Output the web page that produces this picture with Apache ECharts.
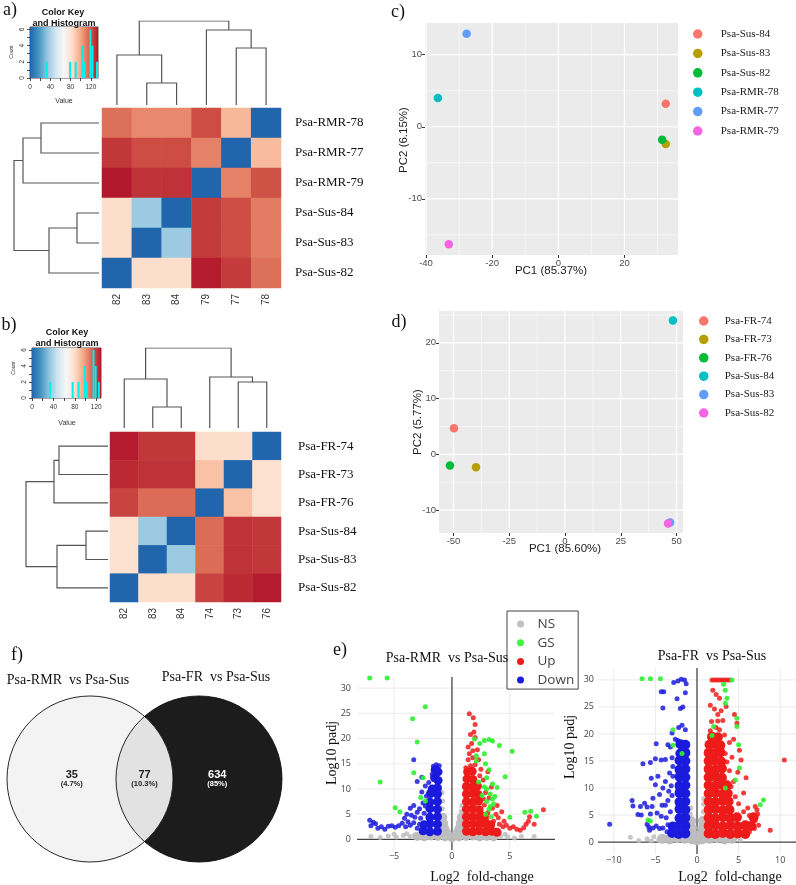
<!DOCTYPE html>
<html><head><meta charset="utf-8">
<script src="https://cdn.jsdelivr.net/npm/echarts@6/dist/echarts.min.js"></script>
<style>html,body{margin:0;padding:0;background:#fff}#c{width:796px;height:885px}</style>
</head><body><div id="c"></div>
<script>
// ---------------- DATA ----------------
// a) heatmap (sample distances)
const heatAcols = ['82','83','84','79','77','78'];
const heatArows = ['Psa-RMR-78','Psa-RMR-77','Psa-RMR-79','Psa-Sus-84','Psa-Sus-83','Psa-Sus-82'];
const heatAvals = [
  [110,104,104,118,92,0],
  [123,118,118,106,0,91],
  [130,124,124,0,106,117],
  [80,35,0,122,118,107],
  [80,0,35,122,118,107],
  [0,80,80,129,122,110]];
// dendrogram merges: [childA, childB, height]; children 0..5 = leaves, 10+k = merge k
const dendTopA = [[1,2,22],[0,10,50],[4,5,57],[3,12,75],[11,13,84]];
const dendLeftA = [[0,1,58],[2,10,76],[3,4,22],[5,12,50],[11,13,85]];
const histA = [[33,2],[79,2],[90,2],[103,4],[107,2],[119,6],[123,4],[132,2]];
// b) heatmap
const heatBcols = ['82','83','84','74','73','76'];
const heatBrows = ['Psa-FR-74','Psa-FR-73','Psa-FR-76','Psa-Sus-84','Psa-Sus-83','Psa-Sus-82'];
const heatBvals = [
  [129,123,123,80,80,0],
  [126,124,124,89,0,78],
  [120,111,111,0,89,78],
  [78,35,0,111,124,123],
  [78,0,35,111,124,123],
  [0,80,80,120,126,129]];
const dendTopB = [[1,2,21],[0,10,49],[4,5,46],[3,12,51],[11,13,80]];
const dendLeftB = [[0,1,49],[2,10,54],[3,4,22],[5,12,51],[11,13,82]];
const histB = [[34,2],[76,2],[87,2],[99,4],[102,2],[115,6],[119,4],[125,2]];
// c) PCA
const pcaCnames = ['Psa-Sus-84','Psa-Sus-83','Psa-Sus-82','Psa-RMR-78','Psa-RMR-77','Psa-RMR-79'];
const pcaCpc1 = [32.5, 32.5, 31.4, -36.4, -27.7, -33.1];
const pcaCpc2 = [3.2, -2.4, -1.8, 4.0, 12.9, -16.3];
const pcaCxTicks = [-40,-20,0,20];
const pcaCyTicks = [-10,0,10];
// d) PCA
const pcaDnames = ['Psa-FR-74','Psa-FR-73','Psa-FR-76','Psa-Sus-84','Psa-Sus-83','Psa-Sus-82'];
const pcaDpc1 = [-49.8, -39.9, -51.6, 48.4, 47.1, 46.2];
const pcaDpc2 = [4.7, -2.3, -2.0, 24.0, -12.2, -12.4];
const pcaDxTicks = [-50,-25,0,25,50];
const pcaDyTicks = [-10,0,10,20];
// f) Venn
const vennNames = ['Psa-RMR  vs Psa-Sus','Psa-FR  vs Psa-Sus'];
const vennCounts = [35, 77, 634];
// e) volcano plots
const volTitles = ['Psa-RMR  vs Psa-Sus','Psa-FR  vs Psa-Sus'];
const volLxTicks = [-5,0,5];
const volRxTicks = [-10,-5,0,5,10];
const volYTicks = [0,5,10,15,20,25,30];
// left volcano (RMR vs Sus)
const nsCoreL = [[-3.0,0.6],[-2.4,0.5],[-1.8,0.7],[-1.2,0.6],[-0.6,0.5],[0,0.3],[0.6,0.5],[1.2,0.6],[1.8,0.7],[2.4,0.5],[3.0,0.6],[3.6,0.5],[-0.4,1.2],[0.4,1.2],[-0.6,2.1],[0.6,2.1],[-0.72,3.2],[0.72,3.2],[-0.78,4.4],[0.8,4.4]];
const nsL = [[-0.85,9.3],[-0.8,7.6],[-0.83,6.1],[0.85,6.7],[0.82,5.6],[-0.7,1.3],[0.7,1.4],[-1.2,0.5],[-1.6,0.9],[-2.0,0.4],[-2.4,0.8],[-2.8,0.4],[-3.2,0.9],[-3.6,0.6],[-4.2,0.8],[-4.8,0.5],[-5.5,0.7],[-6.2,0.4],[-7.0,0.6],[1.2,0.4],[1.6,0.9],[2.0,0.4],[2.4,0.8],[2.8,0.4],[3.2,0.8],[3.6,0.4],[4.2,0.7],[4.8,0.5],[5.4,0.3],[6.0,0.6],[7.1,0.6],[-5.0,1.0],[4.6,1.0],[-3.9,1.1],[3.9,1.0]];
const downCoreL = [[-1.25,1.6],[-1.9,1.5],[-2.5,1.7],[-1.25,3.0],[-1.9,3.1],[-2.4,2.9],[-1.25,4.5],[-1.9,4.4],[-1.25,6.0],[-1.9,6.1],[-1.25,7.5],[-1.9,7.4],[-1.25,9.0],[-1.85,9.1],[-1.25,10.2],[-1.7,10.0],[-1.2,11.7],[-1.5,12.2],[-1.2,13.4],[-1.45,13.8]];
const downL = [[-1.1,14.6],[-1.35,14.8],[-1.6,14.5],[-1.7,12.9],[-2.0,11.3],[-3.3,15.8],[-3.0,11.5],[-2.6,12.3],[-2.3,10.6],[-2.6,9.4],[-2.5,7.2],[-2.8,6.1],[-2.4,5.2],[-2.7,4.2],[-3.0,5.4],[-3.3,6.7],[-3.6,6.2],[-3.9,5.0],[-3.2,4.4],[-2.8,3.0],[-3.0,2.2],[-3.3,3.3],[-3.6,2.8],[-3.8,3.5],[-4.0,2.5],[-4.3,3.2],[-4.6,2.7],[-4.9,2.4],[-5.2,2.7],[-5.5,2.6],[-5.8,2.0],[-6.1,2.5],[-6.4,2.2],[-6.6,3.1],[-7.0,2.7],[-7.1,3.8],[-6.8,3.4],[-4.1,4.2],[-3.5,4.8],[-2.2,8.6],[-2.3,6.6]];
const upCoreL = [[1.25,1.6],[1.8,1.5],[2.35,1.7],[2.9,1.5],[3.45,1.6],[3.9,1.4],[1.25,3.0],[1.8,3.1],[2.35,2.9],[2.9,3.1],[3.35,2.9],[1.25,4.5],[1.8,4.6],[2.35,4.4],[2.8,4.6],[1.25,6.0],[1.8,6.1],[2.35,5.9],[1.25,7.5],[1.8,7.4],[2.3,7.6],[1.25,9.0],[1.8,9.1],[2.25,8.9],[1.25,10.5],[1.8,10.4],[2.2,10.6],[1.3,12.0],[1.8,11.9],[1.35,13.4],[1.75,13.5]];
const upL = [[1.2,14.2],[1.6,14.6],[2.0,14.8],[1.4,15.8],[1.8,16.2],[1.5,17.0],[1.8,17.6],[1.4,18.3],[1.7,19.0],[2.0,20.2],[1.6,20.8],[1.9,21.3],[2.0,22.8],[1.84,24.1],[1.5,24.9],[2.2,17.8],[2.3,15.8],[2.5,13.9],[2.4,12.6],[2.7,11.8],[3.1,13.4],[3.4,10.4],[2.9,9.3],[3.2,8.2],[2.7,8.0],[2.8,6.8],[3.5,6.2],[3.1,5.3],[3.8,5.0],[3.6,3.6],[4.1,3.0],[4.4,2.5],[4.7,2.8],[5.0,2.2],[5.3,2.5],[5.6,2.0],[5.9,1.8],[6.2,2.3],[6.4,3.0],[6.6,3.6],[6.7,4.5],[7.1,3.0],[7.9,5.9],[4.5,3.6],[4.0,4.3],[3.9,6.7],[4.3,5.5],[2.6,3.8],[3.0,4.0]];
const gsL = [[-7.1,32.0],[-5.6,32.0],[-2.3,26.3],[-3.4,23.9],[-3.0,19.3],[-6.2,11.4],[-3.3,13.2],[-2.5,12.2],[-2.7,8.3],[-2.3,7.6],[-4.9,6.3],[-4.5,5.5],[1.95,19.9],[2.8,19.6],[3.2,19.8],[3.5,19.5],[4.1,18.6],[5.2,17.5],[2.4,19.0],[2.8,17.0],[2.1,16.6],[2.1,15.6],[2.9,15.0],[3.2,13.8],[4.6,12.4],[2.3,11.4],[2.8,10.4],[3.0,10.0],[3.3,9.0],[3.5,8.0],[3.6,7.0],[3.2,6.0],[2.9,5.0],[3.4,4.5],[3.7,8.5],[3.9,10.3],[2.6,8.7],[3.0,7.5],[3.3,6.5],[3.5,11.0],[3.0,12.2],[5.0,4.4],[6.3,5.4],[6.8,5.6],[7.3,4.6]];
// right volcano (FR vs Sus)
const nsCoreR = [[-4.2,0.6],[-3.3,0.5],[-2.4,0.7],[-1.5,0.6],[-0.6,0.5],[0,0.3],[0.6,0.5],[1.5,0.6],[2.4,0.7],[3.3,0.5],[4.2,0.6],[-0.45,1.4],[0.45,1.4],[-0.62,2.6],[0.62,2.6],[-0.7,3.9],[0.7,3.9]];
const nsR = [[-8.0,0.9],[-7.0,0.3],[-6.0,0.6],[-5.5,0.2],[-5.2,1.0],[-4.6,0.4],[-3.8,0.9],[4.6,0.8],[5.2,0.4],[5.9,1.0],[-0.8,5.2],[-0.75,6.3],[0.78,5.6],[0.8,7.0],[0.8,8.0],[-0.3,0.7],[0.3,0.7],[-1.0,0.3],[1.0,0.3],[-2.8,1.1],[2.8,1.1]];
const downCoreR = [[-1.4,1.6],[-2.2,1.5],[-3.0,1.7],[-1.4,3.0],[-2.1,3.1],[-2.9,2.9],[-1.4,4.5],[-2.1,4.4],[-1.4,6.0],[-2.1,6.1],[-1.4,7.5],[-2.1,7.4],[-1.4,9.0],[-2.1,9.1],[-1.4,10.5],[-2.1,10.4],[-1.4,12.0],[-2.1,12.1],[-1.4,13.5],[-2.1,13.4],[-1.4,15.0],[-2.1,15.1],[-1.4,16.5],[-2.0,16.4],[-1.4,18.0],[-2.0,18.1]];
const downR = [[-1.5,30.0],[-1.9,30.1],[-2.3,29.8],[-2.8,29.5],[-1.3,29.3],[-1.4,27.6],[-4.3,27.8],[-4.0,27.8],[-2.4,26.5],[-4.1,24.8],[-1.7,25.0],[-2.0,24.7],[-1.8,21.6],[-2.2,21.2],[-1.4,20.8],[-2.6,19.0],[-3.0,20.2],[-2.3,18.8],[-4.9,18.2],[-3.5,18.0],[-3.2,17.6],[-5.0,15.4],[-4.3,15.2],[-5.6,14.7],[-6.5,14.5],[-3.8,15.3],[-3.0,15.6],[-2.9,14.0],[-3.3,12.8],[-4.7,12.2],[-5.5,11.8],[-3.8,11.2],[-5.0,10.6],[-4.1,10.0],[-3.1,10.4],[-4.5,8.8],[-5.3,8.1],[-3.5,7.7],[-3.0,8.6],[-6.3,7.2],[-7.8,7.7],[-7.7,6.7],[-6.8,6.6],[-6.0,6.5],[-5.4,6.6],[-4.2,6.8],[-3.8,6.8],[-7.1,5.1],[-6.7,5.0],[-5.6,5.2],[-4.8,5.4],[-4.3,4.8],[-3.7,4.5],[-3.2,5.6],[-10.5,3.3],[-6.0,3.3],[-5.8,2.8],[-5.3,2.6],[-4.9,3.0],[-4.5,2.5],[-4.1,2.6],[-3.5,3.2],[-3.2,2.8],[-5.7,2.2],[-3.6,1.9],[-2.9,12.2],[-3.4,9.4]];
const upCoreR = [[1.4,1.6],[2.2,1.5],[3.1,1.7],[4.0,1.5],[4.9,1.6],[5.8,1.5],[1.4,3.0],[2.2,3.1],[3.1,2.9],[4.0,3.1],[4.9,2.9],[5.8,3.1],[6.5,3.0],[1.4,4.5],[2.2,4.4],[3.1,4.6],[4.0,4.4],[4.8,4.6],[6.8,4.6],[1.4,6.0],[2.2,6.1],[3.1,5.9],[3.9,6.0],[1.4,7.5],[2.2,7.4],[3.1,7.6],[3.8,7.5],[1.4,9.0],[2.2,9.1],[3.1,8.9],[3.7,9.0],[1.4,10.5],[2.2,10.4],[3.0,10.6],[3.6,10.5],[1.4,12.0],[2.2,12.1],[3.0,11.9],[1.4,13.5],[2.2,13.4],[3.0,13.6],[1.4,15.0],[2.1,15.1],[2.9,14.9],[1.4,16.5],[2.1,16.4],[2.8,16.6],[1.5,18.0],[2.2,18.1],[2.8,17.9],[1.8,19.5],[2.5,19.4]];
const upR = [[1.8,30],[2.1,30],[2.4,30],[2.7,30],[3.0,30],[3.3,30],[3.6,30],[3.9,30],[1.9,28.1],[2.3,27.3],[2.7,26.6],[1.6,25.3],[2.1,24.6],[2.5,23.6],[2.9,24.3],[3.1,22.5],[1.75,22.3],[2.3,21.2],[1.6,20.6],[2.7,20.8],[3.3,19.8],[3.5,25.1],[4.5,23.6],[4.8,22.0],[3.0,17.2],[3.4,16.4],[3.6,14.8],[3.9,13.2],[4.2,15.7],[5.3,15.2],[4.9,12.9],[4.4,11.2],[4.1,10.3],[5.6,9.1],[4.6,8.4],[5.0,7.1],[6.1,6.3],[7.0,6.6],[7.2,6.0],[5.6,5.6],[6.3,4.9],[7.0,4.0],[7.3,5.2],[6.7,3.8],[7.4,3.1],[6.9,2.5],[6.3,1.9],[8.8,2.2],[10.5,15.2],[5.9,11.9],[3.9,18.4],[2.5,22.4],[4.4,19.0],[5.1,17.0]];
const gsR = [[-6.6,30.2],[-5.6,30.2],[-4.4,30.2],[-2.9,20.8],[-2.9,17.9],[-1.8,16.4],[-5.6,3.9],[-5.9,4.1],[4.2,30.0],[3.2,29.2],[3.4,28.1],[3.6,26.6],[3.4,25.7],[4.8,22.9],[4.8,21.4],[5.0,18.0],[5.1,13.7],[4.6,11.5],[3.4,10.0],[2.0,21.4],[1.8,19.7],[8.0,7.8],[7.6,6.9]];

// ---------------- STYLE ----------------
const rdbu = ['#2166ac','#4393c3','#92c5de','#d1e5f0','#f7f7f7','#fddbc7','#f4a582','#d6604d','#b2182b'];
const hue = ['#F8766D','#B79F00','#00BA38','#00BFC4','#619CFF','#F564E3'];
const volColors = {NS:'#bdbdbd', GS:'#2ff02f', Up:'#ee1b1b', Down:'#1b1bdd'};
const SERIF = '"Liberation Serif","Times New Roman",serif';
const SANS = '"Liberation Sans",Arial,sans-serif';

const chart = echarts.init(document.getElementById('c'), null, {renderer:'canvas'});

const grids = [
  {left:102, top:108, width:179, height:180},   //0 heat a
  {left:102, top:21, width:179, height:84},     //1 top dendro a
  {left:14, top:108, width:85, height:180},     //2 left dendro a
  {left:30, top:27, width:68, height:51, show:true, borderColor:'#222', borderWidth:0.8, backgroundColor:'transparent'}, //3 key a
  {left:110, top:432, width:171, height:170},   //4 heat b
  {left:110, top:348, width:171, height:80},    //5 top dendro b
  {left:26, top:432, width:82, height:170},     //6 left dendro b
  {left:32, top:348, width:69, height:50, show:true, borderColor:'#222', borderWidth:0.8, backgroundColor:'transparent'}, //7 key b
  {left:425, top:23, width:253, height:232},    //8 pca c
  {left:439, top:311, width:244, height:222},   //9 pca d
  {left:7, top:696, width:276, height:166},     //10 venn
  {left:357, top:677, width:198, height:173},   //11 volcano L
  {left:598, top:668, width:198, height:186}    //12 volcano R
];
const ranges = {
  8:[-40.3,36.2,-17.8,14.4], 9:[-56.5,52.9,-14.1,25.7], 11:[-8.2,8.9,-2.1,32.2], 12:[-11.9,11.9,-2.2,32.2]
};

const noLine = {show:false, onZero:false};
const hid = (i,min,max,inv) => ({gridIndex:i, type:'value', min, max, inverse:!!inv, show:false});
const catX = (i,data) => ({gridIndex:i, type:'category', data, axisLine:noLine, axisTick:{show:false}, splitLine:{show:false},
  axisLabel:{rotate:90, fontSize:10, color:'#333', margin:6, fontFamily:SANS}});
const catY = (i,data,margin) => ({gridIndex:i, type:'category', data, inverse:true, position:'right', axisLine:noLine, axisTick:{show:false}, splitLine:{show:false},
  axisLabel:{fontSize:13, color:'#111', margin, fontFamily:SERIF}});
const keyX = (i,max) => ({gridIndex:i, type:'value', min:0, max, axisLine:noLine, splitLine:{show:false},
  axisTick:{show:true, length:3, customValues:[0,20,40,60,80,100,120], lineStyle:{color:'#222', width:0.8}},
  axisLabel:{customValues:[0,40,80,120], fontSize:6.5, color:'#333', margin:6, fontFamily:SANS}});
const keyY = (i,max) => ({gridIndex:i, type:'value', min:0, max, axisLine:noLine, splitLine:{show:false},
  axisTick:{show:true, length:3, customValues:[0,1,2,3,4,5,6], lineStyle:{color:'#222', width:0.8}},
  axisLabel:{customValues:[0,2,4,6], rotate:90, fontSize:6.5, color:'#333', margin:4, fontFamily:SANS}});
const pcaAx = (i,min,max,ticks) => ({gridIndex:i, type:'value', min, max, axisLine:noLine, splitLine:{show:false},
  axisTick:{show:true, length:3, customValues:ticks, lineStyle:{color:'#333'}},
  axisLabel:{customValues:ticks, fontSize:9.5, color:'#4d4d4d', margin:3, fontFamily:SANS}});
const volAx = (i,min,max,ticks,margin) => ({gridIndex:i, type:'value', min, max, axisLine:noLine, axisTick:{show:false}, splitLine:{show:false},
  axisLabel:{customValues:ticks, fontSize:9, color:'#444', margin, fontFamily:'"Open Sans",sans-serif', formatter:v=>String(v).replace('-','\u2212')}});

const xAxis = [
  catX(0,heatAcols), hid(1,-0.5,5.5), hid(2,0,85,true), keyX(3,134),
  catX(4,heatBcols), hid(5,-0.5,5.5), hid(6,0,82,true), keyX(7,129),
  pcaAx(8,ranges[8][0],ranges[8][1],pcaCxTicks), pcaAx(9,ranges[9][0],ranges[9][1],pcaDxTicks),
  hid(10,-1,2.325), volAx(11,ranges[11][0],ranges[11][1],volLxTicks,2), volAx(12,ranges[12][0],ranges[12][1],volRxTicks,2)
];
const yAxis = [
  catY(0,heatArows,14), hid(1,0,84), hid(2,-0.5,5.5,true), keyY(3,6.3),
  catY(4,heatBrows,17), hid(5,0,80), hid(6,-0.5,5.5,true), keyY(7,6.25),
  pcaAx(8,ranges[8][2],ranges[8][3],pcaCyTicks), pcaAx(9,ranges[9][2],ranges[9][3],pcaDyTicks),
  hid(10,-1,1), volAx(11,ranges[11][2],ranges[11][3],volYTicks,6), volAx(12,ranges[12][2],ranges[12][3],volYTicks,4)
];

const series = [];
const S = s => { series.push(s); return series.length - 1; };
const cells = vals => { const d=[]; vals.forEach((row,r)=>row.forEach((v,c)=>d.push([c,r,v]))); return d; };

function dendroSegs(merges, leftSide){
  const nodes = [];
  const node = i => i < 10 ? {p:i, h:0} : nodes[i-10];
  const segs = [];
  merges.forEach(([a,b,h]) => {
    const A = node(a), B = node(b);
    const pts = [[A.p,A.h],[A.p,h],[B.p,h],[B.p,B.h]];
    segs.push({coords: leftSide ? pts.map(([p,v]) => [v,p]) : pts});
    nodes.push({p:(A.p+B.p)/2, h});
  });
  return segs;
}
const dendro = (i, merges, leftSide) => S({type:'lines', coordinateSystem:'cartesian2d', xAxisIndex:i, yAxisIndex:i, polyline:true, silent:true,
  data: dendroSegs(merges, leftSide), lineStyle:{color:'#555', width:1.2, opacity:1}, effect:{show:false}});

function keySeries(i, xmax, ymax, hist){
  S({type:'custom', xAxisIndex:i, yAxisIndex:i, silent:true, data:[[xmax/2,ymax/2]], z:1,
    renderItem:(p,api)=>{ const a=api.coord([0,ymax]), b=api.coord([xmax,0]);
      return {type:'rect', shape:{x:a[0], y:a[1], width:b[0]-a[0], height:b[1]-a[1]},
        style:{fill:new echarts.graphic.LinearGradient(0,0,1,0, rdbu.map((c,k)=>({offset:k/(rdbu.length-1), color:c})))}}; }});
  S({type:'bar', xAxisIndex:i, yAxisIndex:i, data:hist, barWidth:2, silent:true, z:3, itemStyle:{color:'#00f0f0'}});
}

function minors(ticks, min, max){
  const step = ticks[1]-ticks[0], out=[];
  for (let v = ticks[0]-step/2; v <= max; v += step) if (v >= min) out.push(v);
  return out;
}
// panel background + reference lines, drawn in one custom item (positions from tick values via the axes)
function lineSeries(i, xMajor, yMajor, xMinor, yMinor, color, wMaj, wMin, bg){
  const [x0,x1,y0,y1] = ranges[i];
  S({type:'custom', xAxisIndex:i, yAxisIndex:i, silent:true, clip:false, z:1, data:[[(x0+x1)/2,(y0+y1)/2]],
    renderItem:(params, api)=>{
      const cs = params.coordSys, children = [];
      if (bg) children.push({type:'rect', shape:{x:cs.x, y:cs.y, width:cs.width, height:cs.height}, style:{fill:bg}});
      const vl = (v,w)=>{ const x = api.coord([v, (y0+y1)/2])[0]; children.push({type:'line', shape:{x1:x, y1:cs.y, x2:x, y2:cs.y+cs.height}, style:{stroke:color, lineWidth:w, fill:null}}); };
      const hl = (v,w)=>{ const y = api.coord([(x0+x1)/2, v])[1]; children.push({type:'line', shape:{x1:cs.x, y1:y, x2:cs.x+cs.width, y2:y}, style:{stroke:color, lineWidth:w, fill:null}}); };
      xMinor.forEach(v=>vl(v,wMin)); yMinor.forEach(v=>hl(v,wMin));
      xMajor.forEach(v=>vl(v,wMaj)); yMajor.forEach(v=>hl(v,wMaj));
      return {type:'group', children};
    }});
}

// heatmaps
const hA = S({type:'heatmap', xAxisIndex:0, yAxisIndex:0, data:cells(heatAvals), silent:true, itemStyle:{borderWidth:0}});
const hB = S({type:'heatmap', xAxisIndex:4, yAxisIndex:4, data:cells(heatBvals), silent:true, itemStyle:{borderWidth:0}});
dendro(1, dendTopA, false); dendro(2, dendLeftA, true);
dendro(5, dendTopB, false); dendro(6, dendLeftB, true);
keySeries(3, 134, 6.3, histA); keySeries(7, 129, 6.25, histB);

// PCA
lineSeries(8, pcaCxTicks, pcaCyTicks, minors(pcaCxTicks,ranges[8][0],ranges[8][1]), minors(pcaCyTicks,ranges[8][2],ranges[8][3]), '#ffffff', 1.2, 0.6, '#ebebeb');
pcaCnames.forEach((n,k)=>S({type:'scatter', name:'c|'+n, xAxisIndex:8, yAxisIndex:8, silent:true, symbolSize:8.5, z:3,
  data:[[pcaCpc1[k], pcaCpc2[k]]], itemStyle:{color:hue[k], opacity:1}}));
lineSeries(9, pcaDxTicks, pcaDyTicks, minors(pcaDxTicks,ranges[9][0],ranges[9][1]), minors(pcaDyTicks,ranges[9][2],ranges[9][3]), '#ffffff', 1.2, 0.6, '#ebebeb');
pcaDnames.forEach((n,k)=>S({type:'scatter', name:'d|'+n, xAxisIndex:9, yAxisIndex:9, silent:true, symbolSize:8.5, z:3,
  data:[[pcaDpc1[k], pcaDpc2[k]]], itemStyle:{color:hue[k], opacity:1}}));

// Venn
const vennGap = 1.313;
S({type:'custom', xAxisIndex:10, yAxisIndex:10, silent:true, data:[[0.6,0]], clip:false,
  renderItem:(params, api)=>{
    const c0 = api.coord([0,0]), c1 = api.coord([vennGap,0]);
    const r = api.coord([1,0])[0]-c0[0];
    const a = Math.acos(vennGap/2), pts = [];
    for (let k=0;k<=48;k++){ const t=-a+2*a*k/48; pts.push(api.coord([Math.cos(t), Math.sin(t)])); }
    for (let k=0;k<=48;k++){ const t=Math.PI-a+2*a*k/48; pts.push(api.coord([vennGap+Math.cos(t), Math.sin(t)])); }
    const total = vennCounts.reduce((s,v)=>s+v,0);
    const pct = v => '(' + (v/total*100).toFixed(1).replace(/\.0$/,'') + '%)';
    const lx = [-0.22, vennGap/2, vennGap+0.22];
    const fills = ['#222','#222','#fff'];
    const texts = [];
    vennCounts.forEach((v,k)=>{
      const p1 = api.coord([lx[k], 0.05]), p2 = api.coord([lx[k], -0.06]);
      texts.push({type:'text', x:p1[0], y:p1[1], style:{text:String(v), fill:fills[k], font:'bold 11px '+SANS, align:'center', verticalAlign:'middle'}});
      texts.push({type:'text', x:p2[0], y:p2[1], style:{text:pct(v), fill:fills[k], font:'bold 7.5px '+SANS, align:'center', verticalAlign:'middle'}});
    });
    return {type:'group', children:[
      {type:'circle', shape:{cx:c1[0], cy:c1[1], r}, style:{fill:'#1c1c1c'}},
      {type:'circle', shape:{cx:c0[0], cy:c0[1], r}, style:{fill:'#f3f3f3'}},
      {type:'polygon', shape:{points:pts}, style:{fill:'#e2e2e2'}},
      {type:'circle', shape:{cx:c0[0], cy:c0[1], r}, style:{fill:'none', stroke:'#111', lineWidth:0.9}},
      {type:'circle', shape:{cx:c1[0], cy:c1[1], r}, style:{fill:'none', stroke:'#111', lineWidth:0.9}}
    ].concat(texts)};
  }});

// volcano plots
function volcano(i, xTicks, coreSize, d){
  lineSeries(i, xTicks.filter(v=>v!==0), volYTicks.filter(v=>v!==0), [], [], '#ebebeb', 1, 1, null);
  lineSeries(i, [0], [0], [], [], '#444', 1.3, 1.3, null);
  const base = {type:'scatter', xAxisIndex:i, yAxisIndex:i, silent:true, symbol:'circle', z:3};
  const add = (name, data, size, op) => S(Object.assign({}, base, {name, data, symbolSize:size, itemStyle:{color:volColors[name], opacity:op}}));
  add('NS', d.nsCore, coreSize, 0.95); add('NS', d.ns, 5, 0.85);
  add('Down', d.downCore, coreSize, 1); add('Down', d.down, 5, 0.85);
  add('Up', d.upCore, coreSize, 1); add('Up', d.up, 5, 0.85);
  add('GS', d.gs, 5, 0.9);
}
volcano(11, volLxTicks, 9, {nsCore:nsCoreL, ns:nsL, downCore:downCoreL, down:downL, upCore:upCoreL, up:upL, gs:gsL});
volcano(12, volRxTicks, 10, {nsCore:nsCoreR, ns:nsR, downCore:downCoreR, down:downR, upCore:upCoreR, up:upR, gs:gsR});

// free texts
const txt = (text, x, y, font, o={}) => Object.assign({type:'text', x, y, silent:true, z:100,
  style:{text, font, fill:o.fill||'#111', align:o.align||'center', verticalAlign:'middle', textAlign:o.align||'center', textVerticalAlign:'middle'}},
  o.rot ? {rotation:o.rot} : {});
const R = Math.PI/2;
const graphics = [
  txt('a)', 10, 10, '18px '+SERIF), txt('b)', 9, 325, '18px '+SERIF), txt('c)', 398, 12, '18px '+SERIF),
  txt('d)', 399, 322, '18px '+SERIF), txt('e)', 340, 650, '18px '+SERIF), txt('f)', 17, 655, '18px '+SERIF),
  txt('Color Key', 63, 13, 'bold 9px '+SANS), txt('and Histogram', 64, 24, 'bold 9px '+SANS),
  txt('Color Key', 67, 333, 'bold 9px '+SANS), txt('and Histogram', 67, 344, 'bold 9px '+SANS),
  txt('Value', 64, 101, '7px '+SANS, {fill:'#333'}), txt('Value', 67, 423, '7px '+SANS, {fill:'#333'}),
  txt('Count', 12, 52, '5px '+SANS, {fill:'#333', rot:R}), txt('Count', 14, 368, '5px '+SANS, {fill:'#333', rot:R}),
  txt('PC1 (85.37%)', 551, 271, '11.5px '+SANS, {fill:'#222'}), txt('PC2 (6.15%)', 404, 140, '11.5px '+SANS, {fill:'#222', rot:R}),
  txt('PC1 (85.60%)', 565, 549, '11.5px '+SANS, {fill:'#222'}), txt('PC2 (5.77%)', 418, 422, '11.5px '+SANS, {fill:'#222', rot:R}),
  txt(volTitles[0], 447, 658, '14px '+SERIF), txt(volTitles[1], 712, 656, '14px '+SERIF),
  txt('Log10 padj', 332, 753, '14px '+SERIF, {rot:R}), txt('Log10 padj', 570, 747, '14px '+SERIF, {rot:R}),
  txt('Log2  fold-change', 482, 877, '14px '+SERIF), txt('Log2  fold-change', 730, 877, '14px '+SERIF),
  txt(vennNames[0], 68, 680, '14px '+SERIF), txt(vennNames[1], 216, 677, '14px '+SERIF)
];

const legendText = {fontFamily:SERIF, fontSize:11, color:'#222', lineHeight:16};
const option = {
  animation:false,
  backgroundColor:'#ffffff',
  grid: grids, xAxis, yAxis, series,
  visualMap:[{type:'continuous', show:false, min:0, max:130, dimension:2, seriesIndex:[hA,hB], inRange:{color:rdbu}}],
  legend:[
    {data:pcaCnames.map(n=>'c|'+n), formatter:n=>n.split('|')[1], left:693, top:26, orient:'vertical', icon:'circle',
      itemWidth:36, itemHeight:9.5, itemGap:3.4, padding:0, selectedMode:false, textStyle:legendText},
    {data:pcaDnames.map(n=>'d|'+n), formatter:n=>n.split('|')[1], left:699, top:313, orient:'vertical', icon:'circle',
      itemWidth:32, itemHeight:9.5, itemGap:2.4, padding:0, selectedMode:false, textStyle:legendText},
    {data:['NS','GS','Up','Down'], left:507, top:611, orient:'vertical', icon:'circle', itemWidth:24, itemHeight:7, itemGap:2.7,
      padding:[5,4,1,10], borderColor:'#444', borderWidth:1, backgroundColor:'#fff', selectedMode:false,
      textStyle:{fontFamily:'"Open Sans",sans-serif', fontSize:13.5, color:'#444', lineHeight:16}}
  ],
  graphic:{elements:graphics}
};
chart.setOption(option);
</script></body></html>
